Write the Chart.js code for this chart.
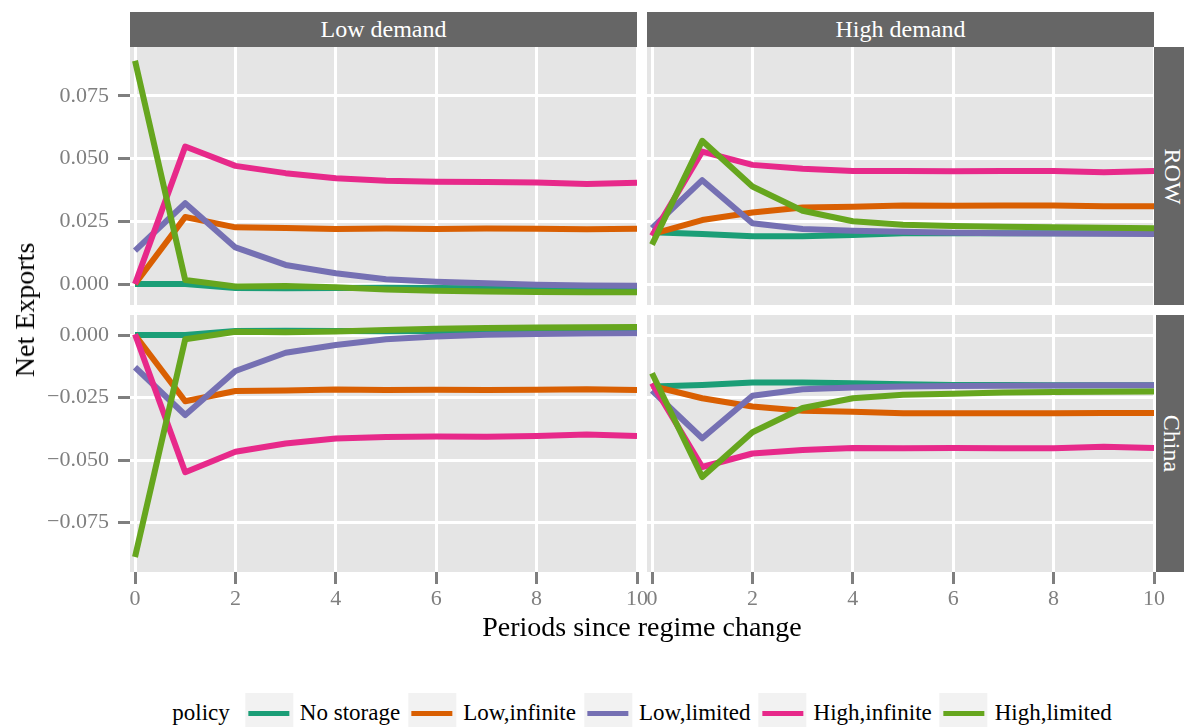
<!DOCTYPE html>
<html lang="en">
<head>
  <meta charset="UTF-8" />
  <title>Net Exports by policy</title>
  <script src="https://cdn.jsdelivr.net/npm/chart.js"></script>
  <style>
    body { margin: 0; background: #fff; font-family: 'Liberation Serif', serif; }
    #wrap { position: relative; width: 1184px; height: 727px; overflow: hidden; }
    canvas { position: absolute; }
    .strip { position: absolute; background: #666; color: #fff; font-size: 24px;
             display: flex; align-items: center; justify-content: center; }
    .strip span { white-space: nowrap; }
    .side span { transform: rotate(90deg); }
    .title { position: absolute; font-size: 28px; color: #000; white-space: nowrap; }
    #legend { position: absolute; top: 693px; left: 642px; transform: translateX(-50%);
              display: flex; align-items: center; height: 40px; font-size: 23px; white-space: nowrap; }
    .key { width: 48px; height: 40px; background: #f2f2f2; display: flex; align-items: center; justify-content: center; margin: 0 7px 0 8px; }
    .key i { display: block; width: 41px; height: 5px; }
  </style>
</head>
<body>
<div id="wrap">
  <div class="strip" style="left:130px;top:12px;width:507px;height:35px"><span>Low demand</span></div>
  <div class="strip" style="left:647px;top:12px;width:507px;height:35px"><span>High demand</span></div>
  <div class="strip side" style="left:1154px;top:47px;width:35px;height:258px"><span>ROW</span></div>
  <div class="strip side" style="left:1154px;top:315px;width:35px;height:257px"><span>China</span></div>

  <canvas id="tl" width="660" height="258" style="left:0;top:47px"></canvas>
  <canvas id="tr" width="527" height="258" style="left:627px;top:47px"></canvas>
  <canvas id="bl" width="660" height="302" style="left:0;top:315px"></canvas>
  <canvas id="br" width="557" height="302" style="left:627px;top:315px"></canvas>

  <div class="title" style="left:25px;top:310px;transform:translate(-50%,-50%) rotate(-90deg)">Net Exports</div>
  <div class="title" style="left:642px;top:627px;transform:translate(-50%,-50%)">Periods since regime change</div>

  <div id="legend"><span style="margin-right:7px">policy</span></div>
</div>

<script>
  // data
  const periods = [0, 1, 2, 3, 4, 5, 6, 7, 8, 9, 10];
  const policies = ['No storage', 'Low,infinite', 'Low,limited', 'High,infinite', 'High,limited'];
  const colors = ['#1B9E77', '#D95F02', '#7570B3', '#E7298A', '#66A61E'];
  const xTicks = [0, 2, 4, 6, 8, 10];
  const yTicksRow = [0, 0.025, 0.05, 0.075];
  const yTicksChina = [-0.075, -0.05, -0.025, 0];

  // Low demand, ROW
  const lowRowNoStorage = [0, 0, -0.0016, -0.0017, -0.0016, -0.0015, -0.0016, -0.0017, -0.0018, -0.0018, -0.0018];
  const lowRowLowInf    = [0, 0.0267, 0.0226, 0.0223, 0.0219, 0.0221, 0.0219, 0.0221, 0.022, 0.0218, 0.022];
  const lowRowLowLim    = [0.0133, 0.0322, 0.0146, 0.0076, 0.0043, 0.0019, 0.0009, 0.0003, -0.0003, -0.0006, -0.0007];
  const lowRowHighInf   = [0, 0.0548, 0.0471, 0.0442, 0.0422, 0.0412, 0.0408, 0.0407, 0.0405, 0.0399, 0.0404];
  const lowRowHighLim   = [0.089, 0.0016, -0.001, -0.0008, -0.0013, -0.0022, -0.0027, -0.003, -0.0032, -0.0033, -0.0033];

  // Low demand, China
  const lowChnNoStorage = [0, 0, 0.0016, 0.0017, 0.0016, 0.0015, 0.0016, 0.0017, 0.0018, 0.0018, 0.0018];
  const lowChnLowInf    = [0, -0.0265, -0.0224, -0.0222, -0.0218, -0.022, -0.0219, -0.022, -0.0219, -0.0217, -0.022];
  const lowChnLowLim    = [-0.0129, -0.032, -0.0144, -0.0071, -0.004, -0.0017, -0.0006, 0.0001, 0.0004, 0.0006, 0.0007];
  const lowChnHighInf   = [0.0003, -0.0549, -0.0467, -0.0434, -0.0414, -0.0408, -0.0406, -0.0407, -0.0404, -0.0398, -0.0404];
  const lowChnHighLim   = [-0.0888, -0.0017, 0.0013, 0.0011, 0.0014, 0.002, 0.0025, 0.0028, 0.003, 0.0031, 0.0032];

  // High demand, ROW
  const highRowNoStorage = [0.0206, 0.0199, 0.019, 0.019, 0.0195, 0.0202, 0.0202, 0.0202, 0.0202, 0.0202, 0.0202];
  const highRowLowInf    = [0.0199, 0.0255, 0.0285, 0.0305, 0.0308, 0.0313, 0.0312, 0.0313, 0.0313, 0.031, 0.031];
  const highRowLowLim    = [0.0223, 0.0414, 0.0242, 0.0219, 0.0212, 0.0208, 0.0204, 0.0202, 0.0201, 0.02, 0.0199];
  const highRowHighInf   = [0.0192, 0.0528, 0.0475, 0.046, 0.0451, 0.0451, 0.045, 0.0451, 0.0451, 0.0446, 0.0451];
  const highRowHighLim   = [0.0157, 0.0571, 0.0389, 0.0292, 0.025, 0.0236, 0.0231, 0.0228, 0.0226, 0.0224, 0.0222];

  // High demand, China
  const highChnNoStorage = [-0.0206, -0.02, -0.019, -0.019, -0.0193, -0.0197, -0.02, -0.02, -0.0201, -0.0201, -0.0201];
  const highChnLowInf    = [-0.0204, -0.0253, -0.0286, -0.0303, -0.0307, -0.0313, -0.0313, -0.0313, -0.0313, -0.0312, -0.0312];
  const highChnLowLim    = [-0.0222, -0.0413, -0.0243, -0.0217, -0.021, -0.0206, -0.0204, -0.0203, -0.0202, -0.0201, -0.0201];
  const highChnHighInf   = [-0.0193, -0.0528, -0.0474, -0.046, -0.0452, -0.0453, -0.0452, -0.0453, -0.0453, -0.0447, -0.0452];
  const highChnHighLim   = [-0.0153, -0.0568, -0.0389, -0.0292, -0.0253, -0.0239, -0.0235, -0.023, -0.0228, -0.0227, -0.0226];

  Chart.defaults.font.family = "'Liberation Serif', serif";
  Chart.defaults.animation = false;

  const panelBg = {
    id: 'panelBg',
    beforeDraw(c) {
      const a = c.chartArea;
      c.ctx.save();
      c.ctx.fillStyle = '#e5e5e5';
      c.ctx.fillRect(a.left, a.top, a.right - a.left, a.bottom - a.top);
      c.ctx.restore();
    }
  };

  function fmt(v) {
    if (Math.abs(v) < 1e-9) return '0.000';
    return (v < 0 ? '\u2212' : '') + Math.abs(v).toFixed(3);
  }

  function makePanel(id, series, yMin, yMax, yTicks, showY, showX, pad) {
    const datasets = series.map((vals, i) => ({
      label: policies[i],
      data: periods.map((p, j) => ({ x: p, y: vals[j] })),
      borderColor: colors[i],
      borderWidth: 6,
      borderJoinStyle: 'round',
      pointRadius: 0,
      tension: 0,
      order: series.length - i
    }));
    new Chart(document.getElementById(id), {
      type: 'line',
      data: { datasets },
      plugins: [panelBg],
      options: {
        responsive: false,
        layout: { padding: pad },
        plugins: { legend: { display: false }, tooltip: { enabled: false } },
        scales: {
          x: {
            type: 'linear', min: -0.1, max: 10,
            afterBuildTicks: s => { s.ticks = xTicks.map(v => ({ value: v })); },
            afterFit: s => { s.height = showX ? 45 : 0; s.paddingLeft = 0; s.paddingRight = 0; },
            border: { display: false },
            grid: { color: '#ffffff', lineWidth: 3, drawTicks: showX, tickLength: 12, tickColor: '#7f7f7f', tickWidth: 3 },
            ticks: { display: showX, color: '#7f7f7f', font: { size: 22 }, padding: 2, maxRotation: 0, autoSkip: false }
          },
          y: {
            type: 'linear', min: yMin, max: yMax,
            afterBuildTicks: s => { s.ticks = yTicks.map(v => ({ value: v })); },
            afterFit: s => { s.width = showY ? 130 : 0; s.paddingTop = 0; s.paddingBottom = 0; },
            border: { display: false },
            grid: { color: '#ffffff', lineWidth: 3, drawTicks: showY, tickLength: 12, tickColor: '#7f7f7f', tickWidth: 3 },
            ticks: { display: showY, color: '#7f7f7f', font: { size: 22 }, padding: 9, callback: v => fmt(v) }
          }
        }
      }
    });
  }

  const rowMin = -0.00837, rowMax = 0.0945;
  const chnMin = -0.0948, chnMax = 0.008;

  makePanel('tl', [lowRowNoStorage, lowRowLowInf, lowRowLowLim, lowRowHighInf, lowRowHighLim],
    rowMin, rowMax, yTicksRow, true, false, { left: 0, right: 23, top: 0, bottom: 0 });
  makePanel('tr', [highRowNoStorage, highRowLowInf, highRowLowLim, highRowHighInf, highRowHighLim],
    rowMin, rowMax, yTicksRow, false, false, { left: 20, right: 0, top: 0, bottom: 0 });
  makePanel('bl', [lowChnNoStorage, lowChnLowInf, lowChnLowLim, lowChnHighInf, lowChnHighLim],
    chnMin, chnMax, yTicksChina, true, true, { left: 0, right: 23, top: 0, bottom: 0 });
  makePanel('br', [highChnNoStorage, highChnLowInf, highChnLowLim, highChnHighInf, highChnHighLim],
    chnMin, chnMax, yTicksChina, false, true, { left: 20, right: 30, top: 0, bottom: 0 });

  // legend
  const legend = document.getElementById('legend');
  policies.forEach((p, i) => {
    const key = document.createElement('div');
    key.className = 'key';
    key.innerHTML = '<i style="background:' + colors[i] + '"></i>';
    legend.appendChild(key);
    const t = document.createElement('span');
    t.textContent = p;
    legend.appendChild(t);
  });
</script>
</body>
</html>
